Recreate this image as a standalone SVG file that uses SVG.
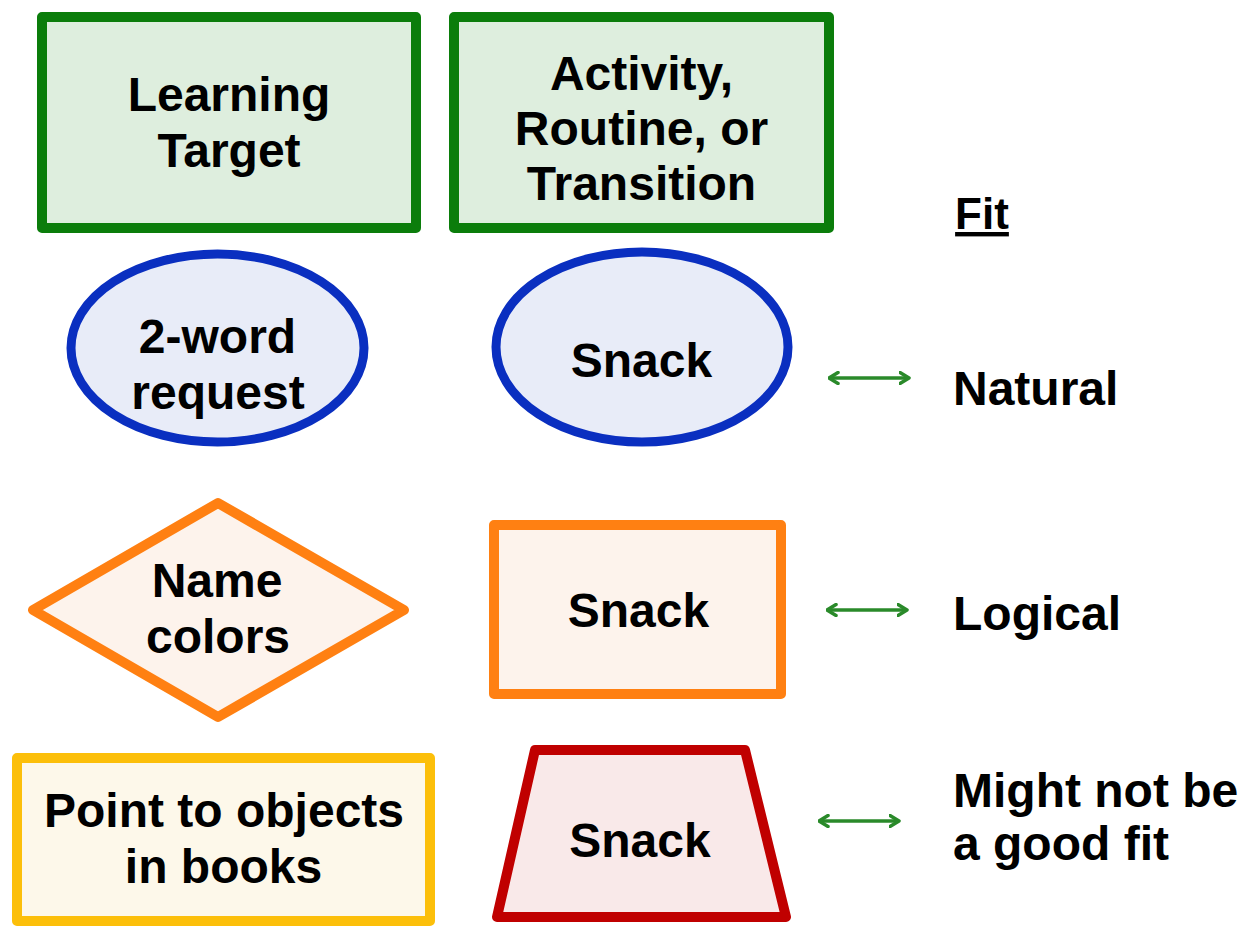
<svg xmlns="http://www.w3.org/2000/svg" width="1251" height="927" viewBox="0 0 1251 927">
<style>
.t{font-family:"Liberation Sans",Arial,sans-serif;font-weight:bold;font-size:48px;fill:#000;text-anchor:middle}
.r{text-anchor:start}
.green{fill:#deeede;stroke:#0b7d0b;stroke-width:10;stroke-linejoin:round}
.blue{fill:#e8ecf8;stroke:#0a2fc0;stroke-width:9}
.orange{fill:#fdf3ec;stroke:#ff8012;stroke-width:10;stroke-linejoin:round}
.red{fill:#f9e9e9;stroke:#c00000;stroke-width:10;stroke-linejoin:round}
.yellow{fill:#fdf8ea;stroke:#fcbf0a;stroke-width:10;stroke-linejoin:round}
.conn{stroke:#2a8a2a;stroke-width:3.5;fill:none;marker-start:url(#ah);marker-end:url(#ah)}
</style>
<defs>
<marker id="ah" viewBox="0 0 12 14" refX="10.5" refY="7" markerWidth="12" markerHeight="14" markerUnits="userSpaceOnUse" orient="auto-start-reverse">
<path d="M1.5,1.5 L10.5,7 L1.5,12.5" fill="none" stroke="#2a8a2a" stroke-width="3.5" stroke-linecap="round" stroke-linejoin="round"/>
</marker>
</defs>
<rect width="1251" height="927" fill="#fff"/>
<g id="learning-target">
<rect class="green" x="42" y="17" width="374" height="211"/>
<text class="t" x="229" y="111">Learning</text>
<text class="t" x="229" y="167">Target</text>
</g>
<g id="activity">
<rect class="green" x="454" y="17" width="375" height="211"/>
<text class="t" x="641.5" y="90">Activity,</text>
<text class="t" x="641.5" y="145">Routine, or</text>
<text class="t" x="641.5" y="200">Transition</text>
</g>
<g id="fit-header">
<text class="t" x="982" y="229" style="font-size:44px;text-decoration:underline">Fit</text>
</g>
<g id="two-word">
<ellipse class="blue" cx="217.5" cy="348" rx="146.5" ry="94"/>
<text class="t" x="217.5" y="353">2-word</text>
<text class="t" x="218" y="409">request</text>
</g>
<g id="snack-ellipse">
<ellipse class="blue" cx="642" cy="347" rx="146" ry="95"/>
<text class="t" x="641.5" y="377">Snack</text>
</g>
<g id="natural">
<text class="t r" x="953" y="405">Natural</text>
</g>
<g id="name-colors">
<polygon class="orange" points="218,503 404,610 218,717 33,610"/>
<text class="t" x="217" y="597">Name</text>
<text class="t" x="218" y="653">colors</text>
</g>
<g id="snack-rect">
<rect class="orange" x="494" y="525" width="287" height="169"/>
<text class="t" x="638.5" y="627">Snack</text>
</g>
<g id="logical">
<text class="t r" x="953" y="630">Logical</text>
</g>
<g id="point-objects">
<rect class="yellow" x="17" y="758" width="413" height="163"/>
<text class="t" x="224" y="827">Point to objects</text>
<text class="t" x="223.5" y="883">in books</text>
</g>
<g id="snack-trapezoid">
<polygon class="red" points="535,750 745,750 786,917 497,917"/>
<text class="t" x="640" y="857">Snack</text>
</g>
<g id="might-not">
<text class="t r" x="953" y="807">Might not be</text>
<text class="t r" x="953" y="860">a good fit</text>
</g>
<g id="connectors">
<line class="conn" x1="829" y1="378" x2="909" y2="378"/>
<line class="conn" x1="827" y1="610" x2="907" y2="610"/>
<line class="conn" x1="819" y1="821" x2="899" y2="821"/>
</g>
</svg>
